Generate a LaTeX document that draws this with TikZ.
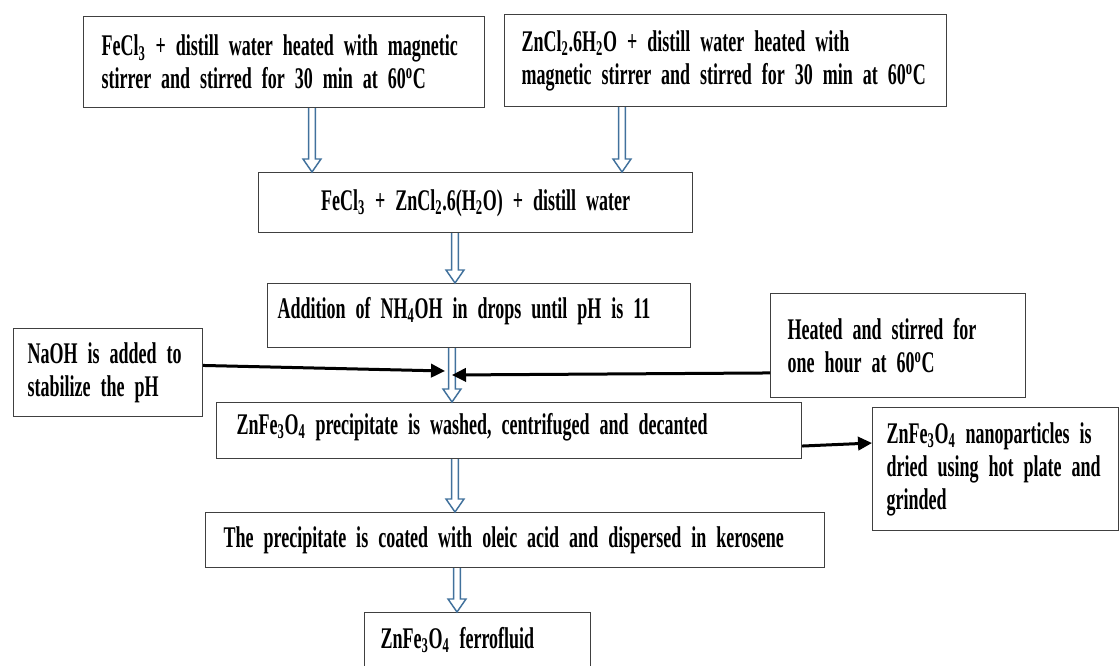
\documentclass[tikz,border=0pt]{standalone}
\usepackage{fontspec}
\newfontfamily\condfont{Liberation Serif}[FakeStretch=0.6]
\usetikzlibrary{arrows.meta,calc}

\definecolor{arrowblue}{RGB}{65,113,156}

\newcommand{\flowarrow}[3]{%
  \draw[blockarr] let \p1=(#2.south), \p2=(#3.north), \p3=(#1,0) in
    (\x3-2.6pt,\y1) -- (\x3-2.6pt,\y2+9.75pt) -- (\x3-6.75pt,\y2+9.75pt) -- (\x3,\y2)
    -- (\x3+6.75pt,\y2+9.75pt) -- (\x3+2.6pt,\y2+9.75pt) -- (\x3+2.6pt,\y1);}

\begin{document}
\begin{tikzpicture}[x=0.75pt,y=-0.75pt,
    flow box/.style={rectangle,draw=black!75,line width=0.9pt,anchor=north west,align=left,inner ysep=0pt,
      font=\condfont\bfseries\fontsize{22.5}{24.75}\selectfont},
    blockarr/.style={draw=arrowblue,line width=1.1pt,fill=white,line join=miter},
    pointer/.style={-{Triangle[length=10.5pt,width=10pt]},line width=2.25pt}]

    \useasboundingbox (0,0) rectangle (1120,666);

    \node[flow box, text width=273.75pt, inner xsep=13.5pt, minimum height=68.25pt] (fecl) at (83,16)
        {FeCl\textsubscript{3} + distill water heated with magnetic\\stirrer and stirred for 30 min at 60\textsuperscript{o}C};
    \node[flow box, text width=306pt, inner xsep=12.75pt, minimum height=69pt] (zncl) at (504,14)
        {ZnCl\textsubscript{2}.6H\textsubscript{2}O + distill water heated with\\magnetic stirrer and stirred for 30 min at 60\textsuperscript{o}C};

    \node[flow box, align=center, text width=325.5pt, inner xsep=0pt, text height=28.5pt, text depth=16.5pt] (mix) at (258,172)
        {FeCl\textsubscript{3} + ZnCl\textsubscript{2}.6(H\textsubscript{2}O) + distill water};
    \node[flow box, text width=302.25pt, inner xsep=7.5pt, text height=26.25pt, text depth=21.75pt] (nhoh) at (267,283)
        {Addition of NH\textsubscript{4}OH in drops until pH is 11};

    \node[flow box, text width=120.75pt, inner xsep=10.5pt, minimum height=66pt] (naoh) at (13,328)
        {NaOH is added to\\stabilize the pH};
    \node[flow box, text width=165.75pt, inner xsep=12.75pt, minimum height=78pt] (heat) at (770,293)
        {Heated and stirred for\\one hour at 60\textsuperscript{o}C};

    \node[flow box, text width=408.75pt, inner xsep=15pt, text height=24pt, text depth=18pt] (wash) at (216,402)
        {ZnFe\textsubscript{3}O\textsubscript{4} precipitate is washed, centrifuged and decanted};
    \node[flow box, text width=163.5pt, inner xsep=10.5pt, minimum height=92.25pt] (dry) at (872,407)
        {ZnFe\textsubscript{3}O\textsubscript{4} nanoparticles is\\dried using hot plate and\\grinded};

    \node[flow box, text width=437.25pt, inner xsep=13.5pt, text height=26.25pt, text depth=15pt] (coat) at (205,512)
        {The precipitate is coated with oleic acid and dispersed in kerosene};
    \node[flow box, text width=145.5pt, inner xsep=12pt, text height=27pt, text depth=45pt] (fluid) at (364,612)
        {ZnFe\textsubscript{3}O\textsubscript{4} ferrofluid};

    \flowarrow{312}{fecl}{mix}
    \flowarrow{622}{zncl}{mix}
    \flowarrow{455}{mix}{nhoh}
    \flowarrow{452}{nhoh}{wash}
    \flowarrow{455}{wash}{coat}
    \flowarrow{457}{coat}{fluid}

    \coordinate (naohtip) at (445,371);
    \coordinate (heattip) at (452,375);
    \coordinate (dryin) at (872,443);

    \draw[pointer] ($(naoh.north east)!0.42!(naoh.south east)$) -- (naohtip);
    \draw[pointer] ($(heat.north west)!0.76!(heat.south west)$) -- (heattip);
    \draw[pointer] ($(wash.north east)!0.77!(wash.south east)$) -- (dryin);
\end{tikzpicture}
\end{document}
